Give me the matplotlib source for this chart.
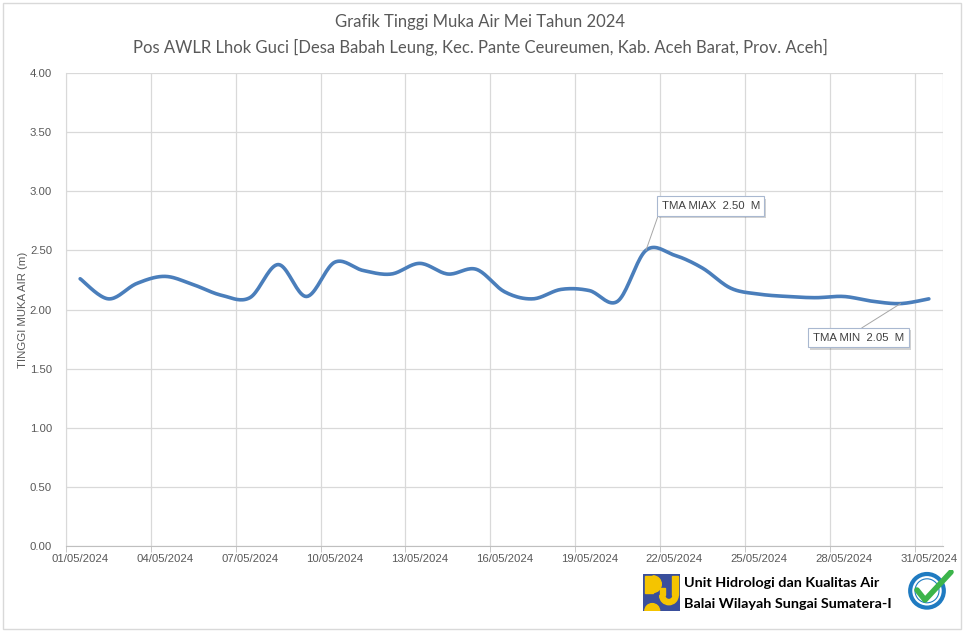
import numpy as np
import matplotlib
matplotlib.use('Agg')
import matplotlib.pyplot as plt
import matplotlib.patches as mpatches
import matplotlib.patheffects as pe

# daily water level, May 2024
dates = ['%02d/05/2024' % d for d in range(1, 32)]
tma = [2.26, 2.09, 2.22, 2.28, 2.21, 2.12, 2.10, 2.38, 2.11, 2.40,
       2.33, 2.30, 2.39, 2.30, 2.34, 2.15, 2.09, 2.17, 2.16, 2.07,
       2.50, 2.46, 2.35, 2.18, 2.13, 2.11, 2.10, 2.11, 2.07, 2.05, 2.09]
y_ticks = [0.0, 0.5, 1.0, 1.5, 2.0, 2.5, 3.0, 3.5, 4.0]
max_label = 'TMA MIAX  2.50  M'
min_label = 'TMA MIN  2.05  M'


def smooth(y, n=20):
    # excel style smoothed line (catmull-rom through the daily points)
    x = np.arange(len(y), dtype=float)
    y = np.asarray(y, dtype=float)
    px = np.concatenate([[x[0]], x, [x[-1]]])
    py = np.concatenate([[y[0]], y, [y[-1]]])
    xs, ys = [], []
    t = np.linspace(0, 1, n, endpoint=False)
    for i in range(1, len(px) - 2):
        mx0 = (px[i + 1] - px[i - 1]) / 2
        mx1 = (px[i + 2] - px[i]) / 2
        my0 = (py[i + 1] - py[i - 1]) / 2
        my1 = (py[i + 2] - py[i]) / 2
        h00 = 2 * t**3 - 3 * t**2 + 1
        h10 = t**3 - 2 * t**2 + t
        h01 = -2 * t**3 + 3 * t**2
        h11 = t**3 - t**2
        xs.append(h00 * px[i] + h10 * mx0 + h01 * px[i + 1] + h11 * mx1)
        ys.append(h00 * py[i] + h10 * my0 + h01 * py[i + 1] + h11 * my1)
    xs.append([x[-1]])
    ys.append([y[-1]])
    return np.concatenate(xs), np.concatenate(ys)


W, H = 966, 635
fig = plt.figure(figsize=(W / 100, H / 100), dpi=100)
fig.patch.set_facecolor('white')
fig.add_artist(mpatches.Rectangle((3 / W, 1 - 629 / H), 958 / W, 626 / H,
                                  transform=fig.transFigure, fill=False,
                                  edgecolor='#d9d9d9', lw=1))

ax = fig.add_axes([66 / W, 1 - 546 / H, 877 / W, 473 / H])
sx, sy = smooth(tma)
ax.plot(sx, sy, color='#4a7ebb', lw=2.6, solid_capstyle='round')

ax.set_xlim(-0.5, len(dates) - 0.5)
ax.set_ylim(0, 4)
ax.set_yticks(y_ticks)
ax.set_yticklabels(['%.2f' % v for v in y_ticks])
ax.set_xticks(np.arange(0, len(dates), 3))
ax.set_xticklabels(dates[::3])
ax.set_xticks(np.arange(-0.5, len(dates), 3), minor=True)
ax.tick_params(axis='x', which='major', length=0, pad=6)
ax.tick_params(axis='x', which='minor', length=4, color='#bfbfbf')
ax.tick_params(axis='y', length=0, pad=10)
ax.tick_params(labelsize=8.2, labelcolor='#595959')
for lab in ax.get_xticklabels() + ax.get_yticklabels():
    lab.set_family('Liberation Sans')
ax.grid(True, axis='y', color='#d9d9d9', lw=0.9)
ax.grid(True, axis='x', which='minor', color='#d9d9d9', lw=0.9)
ax.grid(False, axis='x', which='major')
for s in ['top', 'right']:
    ax.spines[s].set_visible(False)
ax.spines['left'].set_color('#d9d9d9')
ax.spines['bottom'].set_color('#bfbfbf')
ax.axvline(len(dates) - 0.5, color='#d9d9d9', lw=0.9)
ax.set_ylabel('TINGGI MUKA AIR (m)', fontsize=8.2, color='#595959',
              family='Liberation Sans')
ax.yaxis.set_label_coords(-38 / 877, 0.5)

fig.text(0.497, 1 - 22 / H, 'Grafik Tinggi Muka Air Mei Tahun 2024',
         ha='center', va='center', fontsize=12, color='#595959', family='Lato')
fig.text(0.497, 1 - 47 / H,
         'Pos AWLR Lhok Guci [Desa Babah Leung, Kec. Pante Ceureumen, Kab. Aceh Barat, Prov. Aceh]',
         ha='center', va='center', fontsize=12, color='#595959', family='Lato')

# annotations for max and min
imax = int(np.argmax(tma))
imin = int(np.argmin(tma))
box = dict(boxstyle='square,pad=0.4', fc='white', ec='#a9b8d0', lw=0.8,
           path_effects=[pe.SimplePatchShadow(offset=(1.5, -1.5), alpha=0.25),
                         pe.Normal()])
ax.annotate(max_label, xy=(imax, tma[imax]), xytext=(20.55, 2.875),
            fontsize=8.2, color='#404040', family='Liberation Sans',
            ha='left', va='center', bbox=box,
            arrowprops=dict(arrowstyle='-', color='#a6a6a6', lw=0.7,
                            shrinkA=0, shrinkB=0, relpos=(0, 0.5)))
ax.annotate(min_label, xy=(imin, tma[imin]), xytext=(25.9, 1.76),
            fontsize=8.2, color='#404040', family='Liberation Sans',
            ha='left', va='center', bbox=box,
            arrowprops=dict(arrowstyle='-', color='#a6a6a6', lw=0.7,
                            shrinkA=0, shrinkB=0, relpos=(0.45, 1)))

# footer: logo and agency name
blue, yellow = '#3a4f9c', '#f5c400'
lg = fig.add_axes([643 / W, 1 - 611 / H, 37 / W, 37 / H])
lg.set_xlim(0, 1)
lg.set_ylim(0, 1)
lg.axis('off')
lg.add_patch(mpatches.Rectangle((0, 0), 1, 1, color=blue))
lg.add_patch(mpatches.Rectangle((0.05, 0.5), 0.22, 0.45, color=yellow))
lg.add_patch(mpatches.Wedge((0.27, 0.725), 0.225, 270, 90, color=yellow))
lg.add_patch(mpatches.Rectangle((0.78, 0.42), 0.17, 0.53, color=yellow))
lg.add_patch(mpatches.Rectangle((0.45, 0.42), 0.14, 0.2, color=yellow))
lg.add_patch(mpatches.Wedge((0.7, 0.42), 0.25, 180, 360, width=0.14, color=yellow))
lg.add_patch(mpatches.Wedge((0.25, 0.0), 0.2, 0, 180, color=yellow))

fig.text(684 / W, 1 - 583 / H, 'Unit Hidrologi dan Kualitas Air',
         fontsize=10.4, fontweight='bold', family='Lato', va='center')
fig.text(684 / W, 1 - 604 / H, 'Balai Wilayah Sungai Sumatera-I',
         fontsize=10.4, fontweight='bold', family='Lato', va='center')

ck = fig.add_axes([907 / W, 1 - 610 / H, 50 / W, 40 / H])
ck.set_xlim(0, 1.25)
ck.set_ylim(0, 1)
ck.axis('off')
ck.add_patch(mpatches.Circle((0.5, 0.48), 0.42, fc='white', ec='#1f7bc1', lw=3))
ck.add_patch(mpatches.Circle((0.5, 0.48), 0.3, fc='white', ec='#1f7bc1', lw=0.8))
ck.plot([0.25, 0.45, 1.1], [0.5, 0.25, 0.95], color='#3cb44a', lw=4,
        solid_capstyle='round')

fig.savefig('out.png', dpi=100)
